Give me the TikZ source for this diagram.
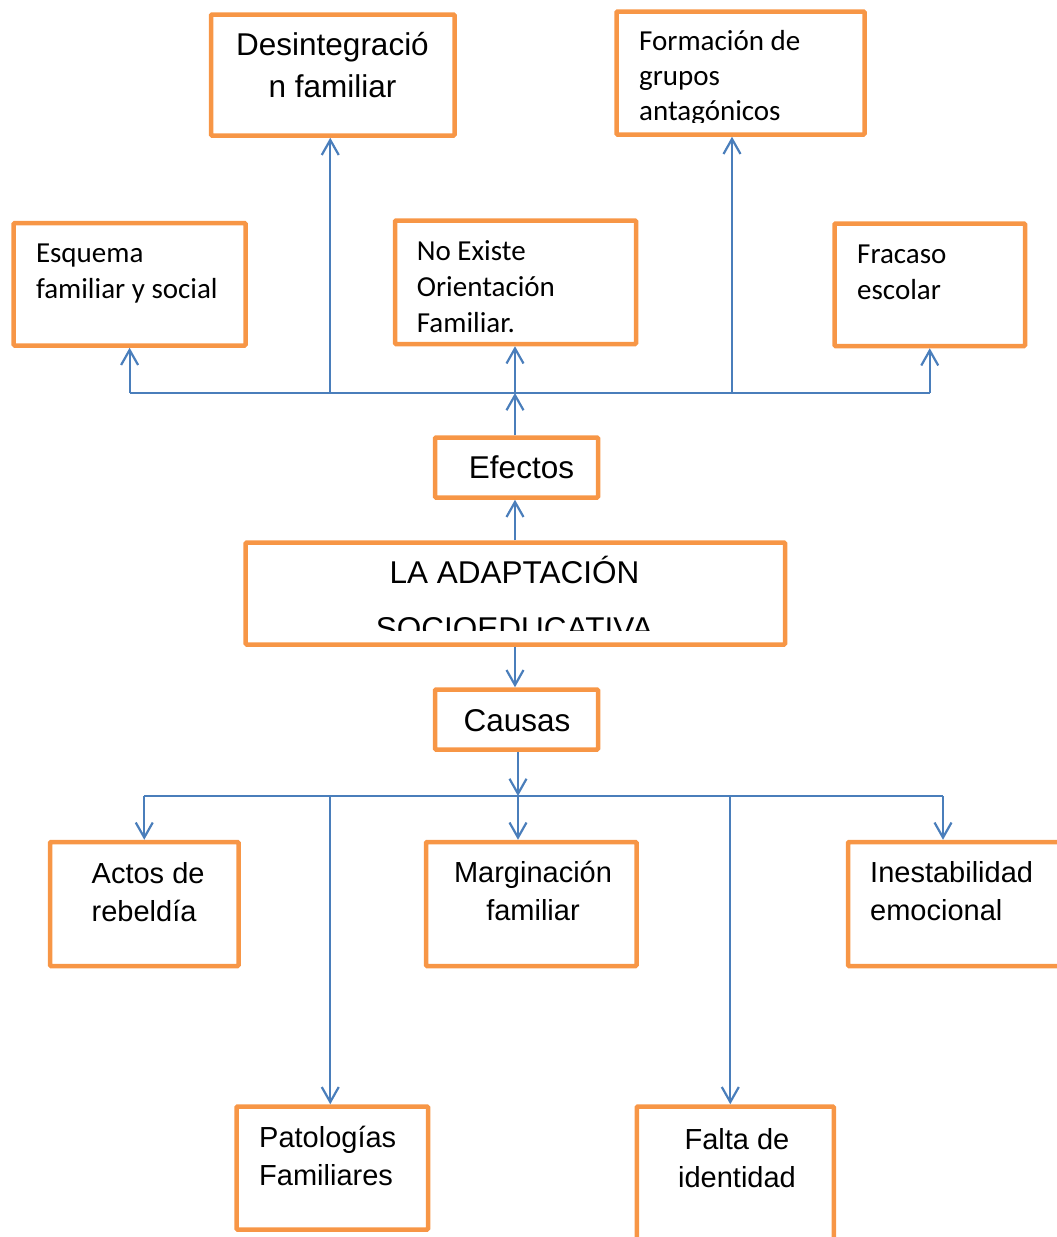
\documentclass[tikz,border=0pt]{standalone}
\usepackage{fontspec}
\setmainfont{Liberation Sans}
\newfontfamily\calibrifont{Carlito}
\usepackage{xcolor}
\definecolor{boxorange}{RGB}{247, 150, 70}
\definecolor{linkblue}{RGB}{74, 126, 187}
\usetikzlibrary{positioning,arrows.meta}

\begin{document}
\begin{tikzpicture}[x=1pt,y=-1pt,
    box/.style={draw=boxorange, line width=4.5pt, inner sep=0pt, rounded corners=1pt},
    wire/.style={linkblue, line width=2.2pt},
    link/.style={wire, -{Straight Barb[length=15pt,width=17pt]}},
    bigtxt/.style={inner sep=0pt, font=\fontsize{31.5}{42}\selectfont},
    smalltxt/.style={inner sep=0pt, font=\fontsize{29}{38}\selectfont},
    calitxt/.style={inner sep=0pt, font=\calibrifont\fontsize{29}{36}\selectfont}]
    \useasboundingbox (0,0) rectangle (1057,1237);

    % Effect boxes (top)
    \node[box, minimum width=243.5pt, minimum height=121pt] (desint) at (332.75,75) {};
    \node[box, minimum width=248pt, minimum height=123pt] (formacion) at (740.5,73) {};
    \node[box, minimum width=231.8pt, minimum height=122.5pt] (esquema) at (129.6,284.25) {};
    \node[box, minimum width=241pt, minimum height=123.5pt] (noexiste) at (515.5,282.25) {};
    \node[box, minimum width=190.5pt, minimum height=122.5pt] (fracaso) at (929.75,284.75) {};

    % (base = last line)
    \node[bigtxt, anchor=base, align=center] (desinttxt) at (332.5,97) {Desintegració\\n familiar};
    \begin{scope}
        \clip (619,15) rectangle (862,122);
        \node[calitxt, anchor=base west, align=left, font=\calibrifont\fontsize{29}{35}\selectfont] (formaciontxt) at (639,120) {Formación de\\grupos\\antagónicos};
    \end{scope}
    \node[calitxt, anchor=base west, align=left] (esquematxt) at (35.8,298) {Esquema\\familiar y social};
    \node[calitxt, anchor=base west, align=left] (noexistetxt) at (416.7,332) {No Existe\\Orientación\\Familiar.};
    \node[calitxt, anchor=base west, align=left] (fracasotxt) at (857,299) {Fracaso\\escolar};

    % Centre column
    \node[box, minimum width=163pt, minimum height=60pt] (efectos) at (516.5,467.5) {};
    \node[bigtxt, anchor=base] (efectostxt) at (521.5,478) {Efectos};
    \node[box, minimum width=539.3pt, minimum height=102pt] (adapt) at (515.35,593.5) {};
    \begin{scope}
        \clip (250,546) rectangle (781,630);
        \node[bigtxt, anchor=base, align=center, font=\fontsize{31.5}{56}\selectfont] (adapttxt) at (514.5,639) {LA ADAPTACIÓN\\SOCIOEDUCATIVA};
    \end{scope}
    \node[box, minimum width=163pt, minimum height=60pt] (causas) at (516.5,719.5) {};
    \node[bigtxt, anchor=base] (causastxt) at (517,731) {Causas};

    % Cause boxes (bottom)
    \node[box, minimum width=188.5pt, minimum height=124pt] (actos) at (144.25,904) {};
    \node[box, minimum width=210.5pt, minimum height=124pt] (margina) at (531.25,904) {};
    \node[box, minimum width=216pt, minimum height=124pt] (inestab) at (956,904) {};
    \node[box, minimum width=191.5pt, minimum height=123pt] (patolog) at (332.25,1168) {};
    \node[box, minimum width=197pt, minimum height=143.5pt] (falta) at (735.3,1178.25) {};

    \node[smalltxt, anchor=base west, align=left] (actostxt) at (91.5,921) {Actos de\\rebeldía};
    \node[smalltxt, anchor=base, align=center] (marginatxt) at (533,920) {Marginación\\familiar};
    \node[smalltxt, anchor=base west, align=left] (inestabtxt) at (870,920) {Inestabilidad\\emocional};
    \node[smalltxt, anchor=base west, align=left] (patologtxt) at (259,1185) {Patologías\\Familiares};
    \node[smalltxt, anchor=base, align=center] (faltatxt) at (737,1187) {Falta de\\identidad};

    % Connectors
    \coordinate (busE) at (515,393);
    \coordinate (busC) at (518,796);
    \draw[wire] (esquema.south |- busE) -- (fracaso.south |- busE);
    \draw[link] (adapt.north -| busE) -- (efectos.south -| busE);
    \draw[link] (efectos.north -| busE) -- (busE);
    \draw[link] (busE) -- (noexiste.south -| busE);
    \draw[link] (esquema.south |- busE) -- (esquema.south);
    \draw[link] (fracaso.south |- busE) -- (fracaso.south);
    \draw[link] ([xshift=-2.5pt]desint.south |- busE) -- ([xshift=-2.5pt]desint.south);
    \draw[link] ([xshift=-8.5pt]formacion.south |- busE) -- ([xshift=-8.5pt]formacion.south);

    \draw[link] (adapt.south -| busE) -- (causas.north -| busE);
    \draw[link] (causas.south -| busC) -- (busC);
    \draw[wire] (actos.north |- busC) -- ([xshift=-13pt]inestab.north |- busC);
    \draw[link] (actos.north |- busC) -- (actos.north);
    \draw[link] (busC) -- (margina.north -| busC);
    \draw[link] ([xshift=-13pt]inestab.north |- busC) -- ([xshift=-13pt]inestab.north);
    \draw[link] ([xshift=-2pt]patolog.north |- busC) -- ([xshift=-2pt]patolog.north);
    \draw[link] ([xshift=-5pt]falta.north |- busC) -- ([xshift=-5pt]falta.north);
\end{tikzpicture}
\end{document}
